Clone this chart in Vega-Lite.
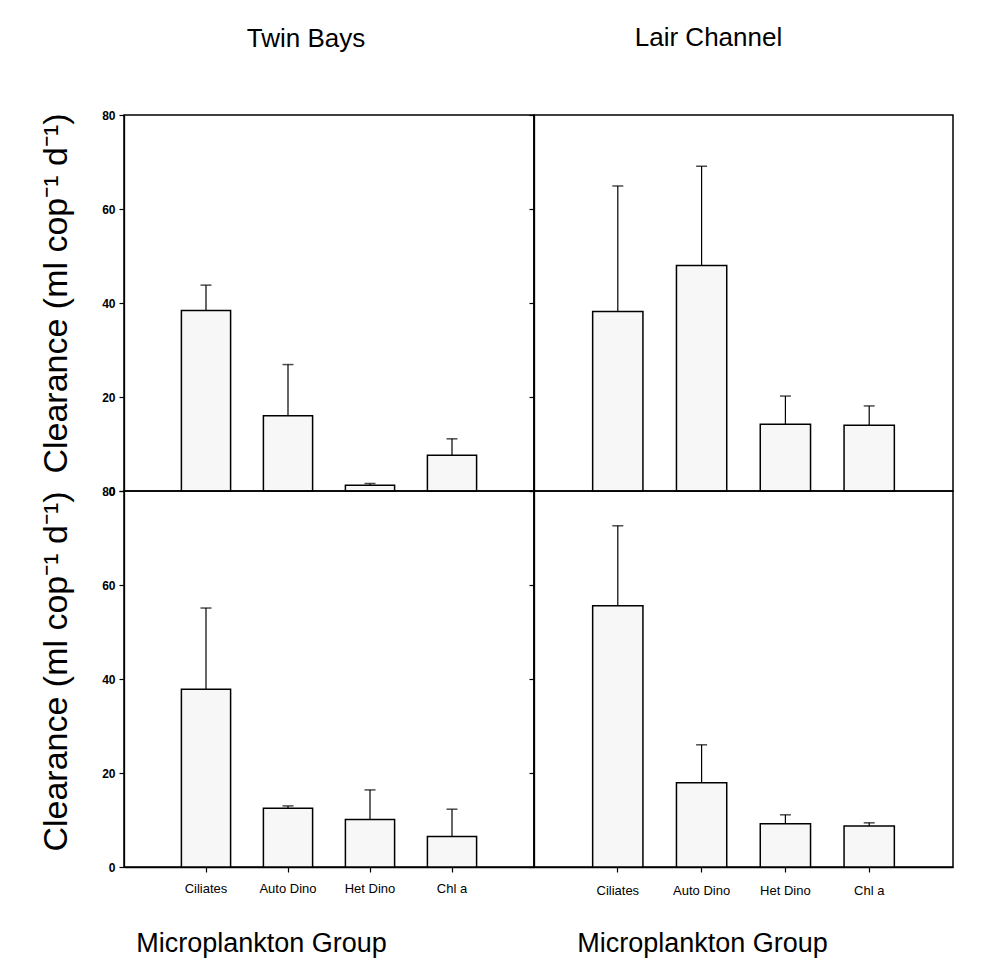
{
  "$schema": "https://vega.github.io/schema/vega-lite/v6.json",
  "autosize": {"type": "pad"},
  "padding": {"left": 38, "top": 24, "right": 29, "bottom": 15},
  "background": "white",
  "config": {
    "font": "Liberation Sans",
    "view": {"stroke": "black", "strokeWidth": 1.5},
    "axis": {"domainColor": "black", "tickColor": "black", "labelColor": "black", "titleColor": "black", "grid": false, "domainWidth": 1.3, "tickWidth": 1.2},
    "title": {"fontSize": 26, "fontWeight": "normal", "font": "Liberation Sans", "color": "black"}
  },
  "data": {
    "values": [
      {"site": "Twin Bays", "period": 1, "group": "Ciliates", "value": 38.4, "err": 43.8},
      {"site": "Twin Bays", "period": 1, "group": "Auto Dino", "value": 16.0, "err": 26.9},
      {"site": "Twin Bays", "period": 1, "group": "Het Dino", "value": 1.2, "err": 1.6},
      {"site": "Twin Bays", "period": 1, "group": "Chl a", "value": 7.6, "err": 11.1},
      {"site": "Lair Channel", "period": 1, "group": "Ciliates", "value": 38.2, "err": 64.9},
      {"site": "Lair Channel", "period": 1, "group": "Auto Dino", "value": 48.0, "err": 69.1},
      {"site": "Lair Channel", "period": 1, "group": "Het Dino", "value": 14.2, "err": 20.2},
      {"site": "Lair Channel", "period": 1, "group": "Chl a", "value": 14.0, "err": 18.1},
      {"site": "Twin Bays", "period": 2, "group": "Ciliates", "value": 37.8, "err": 55.1},
      {"site": "Twin Bays", "period": 2, "group": "Auto Dino", "value": 12.5, "err": 13.0},
      {"site": "Twin Bays", "period": 2, "group": "Het Dino", "value": 10.1, "err": 16.4},
      {"site": "Twin Bays", "period": 2, "group": "Chl a", "value": 6.5, "err": 12.3},
      {"site": "Lair Channel", "period": 2, "group": "Ciliates", "value": 55.6, "err": 72.6},
      {"site": "Lair Channel", "period": 2, "group": "Auto Dino", "value": 17.9, "err": 26.0},
      {"site": "Lair Channel", "period": 2, "group": "Het Dino", "value": 9.2, "err": 11.1},
      {"site": "Lair Channel", "period": 2, "group": "Chl a", "value": 8.7, "err": 9.4}
    ]
  },
  "columns": 2,
  "spacing": 0,
  "bounds": "flush",
  "concat": [
    {
      "width": 410, "height": 376,
      "title": {"text": "Twin Bays", "dx": -23, "offset": 57},
      "transform": [{"filter": "datum.site === 'Twin Bays' && datum.period === 1"}],
      "encoding": {"x": {"field": "group", "type": "nominal", "sort": ["Ciliates", "Auto Dino", "Het Dino", "Chl a"], "scale": {"paddingInner": 0.4, "paddingOuter": 0.7}, "axis": null}},
      "layer": [
        {"mark": {"type": "bar", "fill": "#f7f7f7", "stroke": "black", "strokeWidth": 1.5},
         "encoding": {"y": {"field": "value", "type": "quantitative", "scale": {"domain": [0, 80], "nice": false},
           "axis": {"values": [0, 20, 40, 60, 80], "title": "Clearance (ml cop⁻¹ d⁻¹)", "titleFontSize": 34, "titleFontWeight": "normal", "titleX": -68, "titleY": 178, "titleBaseline": "middle", "labelFontSize": 12, "labelFontWeight": "bold", "tickSize": 5, "labelPadding": 4}}}},
        {"mark": {"type": "rule", "color": "black", "strokeWidth": 1.2},
         "encoding": {"y": {"field": "value", "type": "quantitative", "title": "Clearance (ml cop⁻¹ d⁻¹)"}, "y2": {"field": "err"}}},
        {"mark": {"type": "tick", "color": "black", "thickness": 1.5, "size": 11},
         "encoding": {"y": {"field": "err", "type": "quantitative", "title": "Clearance (ml cop⁻¹ d⁻¹)"}}}
      ]
    },
    {
      "width": 419, "height": 376,
      "title": {"text": "Lair Channel", "dx": -35, "offset": 63},
      "transform": [{"filter": "datum.site === 'Lair Channel' && datum.period === 1"}],
      "encoding": {"x": {"field": "group", "type": "nominal", "sort": ["Ciliates", "Auto Dino", "Het Dino", "Chl a"], "scale": {"paddingInner": 0.4, "paddingOuter": 0.7}, "axis": null}},
      "layer": [
        {"mark": {"type": "bar", "fill": "#f7f7f7", "stroke": "black", "strokeWidth": 1.5},
         "encoding": {"y": {"field": "value", "type": "quantitative", "scale": {"domain": [0, 80], "nice": false},
           "axis": {"values": [0, 20, 40, 60, 80], "title": null, "labels": false, "tickSize": 5}}}},
        {"mark": {"type": "rule", "color": "black", "strokeWidth": 1.2},
         "encoding": {"y": {"field": "value", "type": "quantitative", "title": null}, "y2": {"field": "err"}}},
        {"mark": {"type": "tick", "color": "black", "thickness": 1.5, "size": 11},
         "encoding": {"y": {"field": "err", "type": "quantitative", "title": null}}}
      ]
    },
    {
      "width": 410, "height": 376,
      "transform": [{"filter": "datum.site === 'Twin Bays' && datum.period === 2"}],
      "encoding": {"x": {"field": "group", "type": "nominal", "sort": ["Ciliates", "Auto Dino", "Het Dino", "Chl a"], "scale": {"paddingInner": 0.4, "paddingOuter": 0.7},
        "axis": {"title": "Microplankton Group", "titleFontSize": 27, "titleFontWeight": "normal", "titleX": 137, "titleY": 63, "labelAngle": 0, "labelFontSize": 13, "labelPadding": 10, "tickSize": 5}}},
      "layer": [
        {"mark": {"type": "bar", "fill": "#f7f7f7", "stroke": "black", "strokeWidth": 1.5},
         "encoding": {"y": {"field": "value", "type": "quantitative", "scale": {"domain": [0, 80], "nice": false},
           "axis": {"values": [0, 20, 40, 60, 80], "title": "Clearance (ml cop⁻¹ d⁻¹)", "titleFontSize": 34, "titleFontWeight": "normal", "titleX": -68, "titleY": 180, "titleBaseline": "middle", "labelFontSize": 12, "labelFontWeight": "bold", "tickSize": 5, "labelPadding": 4}}}},
        {"mark": {"type": "rule", "color": "black", "strokeWidth": 1.2},
         "encoding": {"y": {"field": "value", "type": "quantitative", "title": "Clearance (ml cop⁻¹ d⁻¹)"}, "y2": {"field": "err"}}},
        {"mark": {"type": "tick", "color": "black", "thickness": 1.5, "size": 11},
         "encoding": {"y": {"field": "err", "type": "quantitative", "title": "Clearance (ml cop⁻¹ d⁻¹)"}}}
      ]
    },
    {
      "width": 419, "height": 376,
      "transform": [{"filter": "datum.site === 'Lair Channel' && datum.period === 2"}],
      "encoding": {"x": {"field": "group", "type": "nominal", "sort": ["Ciliates", "Auto Dino", "Het Dino", "Chl a"], "scale": {"paddingInner": 0.4, "paddingOuter": 0.7},
        "axis": {"title": "Microplankton Group", "titleFontSize": 27, "titleFontWeight": "normal", "titleX": 168, "titleY": 63, "labelAngle": 0, "labelFontSize": 13, "labelPadding": 12, "tickSize": 5}}},
      "layer": [
        {"mark": {"type": "bar", "fill": "#f7f7f7", "stroke": "black", "strokeWidth": 1.5},
         "encoding": {"y": {"field": "value", "type": "quantitative", "scale": {"domain": [0, 80], "nice": false},
           "axis": {"values": [0, 20, 40, 60, 80], "title": null, "labels": false, "tickSize": 5}}}},
        {"mark": {"type": "rule", "color": "black", "strokeWidth": 1.2},
         "encoding": {"y": {"field": "value", "type": "quantitative", "title": null}, "y2": {"field": "err"}}},
        {"mark": {"type": "tick", "color": "black", "thickness": 1.5, "size": 11},
         "encoding": {"y": {"field": "err", "type": "quantitative", "title": null}}}
      ]
    }
  ]
}
